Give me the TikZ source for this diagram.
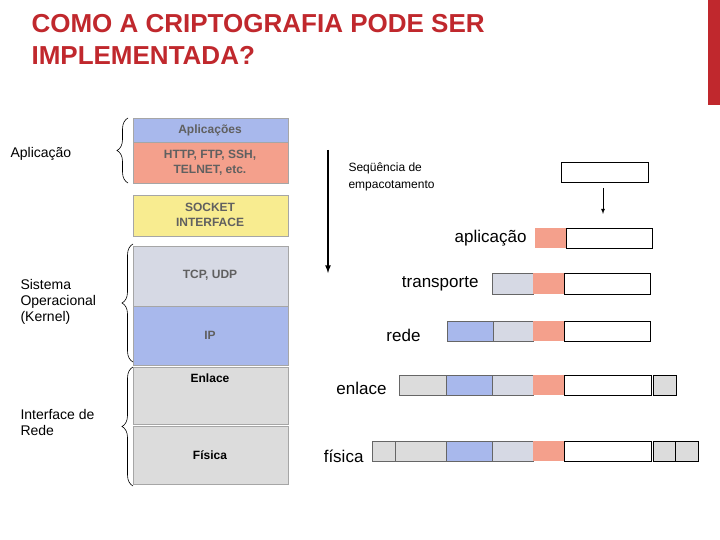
\documentclass[tikz,border=0pt]{standalone}
\usepackage{fontspec}
\setmainfont{Liberation Sans}
\usetikzlibrary{decorations.pathreplacing}
\definecolor{ttl}{HTML}{C0282D}
\definecolor{bl}{HTML}{A8B8EC}
\definecolor{rd}{HTML}{F4A08C}
\definecolor{gr}{HTML}{DCDCDC}
\definecolor{gb}{HTML}{D6D9E4}
\definecolor{ye}{HTML}{F8EC90}
\definecolor{tg}{HTML}{606060}
\tikzset{x=1pt,y=-1pt,
 lay/.style={draw=gray!70,line width=0.6pt},
 cell/.style={draw=gray!80!black,line width=0.6pt},
 wcell/.style={draw=black,line width=0.7pt,fill=white},
 ltxt/.style={font=\fontsize{12}{15}\selectfont\bfseries,text=tg,align=center},
 side/.style={font=\fontsize{14}{16}\selectfont,align=left,anchor=west},
 pl/.style={font=\fontsize{17}{19}\selectfont,anchor=east},
 br/.style={decorate,decoration={brace,amplitude=11pt},line width=0.6pt}}
\begin{document}
\begin{tikzpicture}
\useasboundingbox (0,0) rectangle (720,540);
\fill[ttl] (708,0) rectangle (720,105);
\node[anchor=west,font=\fontsize{26}{32}\selectfont\bfseries,text=ttl,align=left] (title) at (28,39) {COMO A CRIPTOGRAFIA PODE SER\\IMPLEMENTADA?};
% stack
\fill[bl,lay] (133,118) rectangle (288,142);
\node[ltxt] (apl) at (210,130) {Aplicações};
\fill[rd,lay] (133,142) rectangle (288,183);
\node[ltxt] (http) at (210,163) {HTTP, FTP, SSH,\\TELNET, etc.};
\fill[ye,lay] (133,195) rectangle (288,236);
\node[ltxt] (sock) at (210,215) {SOCKET\\INTERFACE};
\fill[gb,lay] (133,246) rectangle (288,306);
\node[ltxt] (tcp) at (210,275) {TCP, UDP};
\fill[bl,lay] (133,306) rectangle (288,365);
\node[ltxt] (ip) at (210,335) {IP};
\fill[gr,lay] (133,367) rectangle (288,424);
\node[ltxt,text=black] (enl) at (210,378) {Enlace};
\fill[gr,lay] (133,426) rectangle (288,484);
\node[ltxt,text=black] (fis) at (210,455) {Física};
% braces
\draw[br] (128,183) -- (128,118);
\draw[br] (133,362) -- (133,244);
\draw[br] (133,486) -- (133,367);
\node[side] (sa) at (7,154) {Aplicação};
\node[side] (so) at (17,302) {Sistema\\Operacional\\(Kernel)};
\node[side] (sr) at (17,422) {Interface de\\Rede};
% arrow
\coordinate (a1) at (328,150); \coordinate (a2) at (328,273);
\draw[line width=1.6pt,-latex] (a1) -- (a2);
\node[anchor=west,align=left,font=\fontsize{12}{17}\selectfont] (seq) at (345,177) {Seqüência de\\empacotamento};
% packets
\draw[wcell] (561,162) rectangle (648,182);
\coordinate (b1) at (603,188); \coordinate (b2) at (603,214);
\draw[-latex,line width=0.8pt] (b1) -- (b2);
% aplicacao
\fill[rd] (535,228) rectangle (566,248);
\draw[wcell] (566,228) rectangle (652,248);
\node[pl] (la) at (530,238) {aplicação};
% transporte
\fill[gb,cell] (492,273) rectangle (533,294);
\fill[rd] (533,273) rectangle (564,294);
\draw[wcell] (564,273) rectangle (650,294);
\node[pl] (lt) at (482,284) {transporte};
% rede
\fill[bl,cell] (447,321) rectangle (493,341);
\fill[gb,cell] (493,321) rectangle (533,341);
\fill[rd] (533,321) rectangle (564,341);
\draw[wcell] (564,321) rectangle (650,341);
\node[pl] (lr) at (424,335) {rede};
% enlace
\fill[gr,cell] (399,375) rectangle (446,395);
\fill[bl,cell] (446,375) rectangle (492,395);
\fill[gb,cell] (492,375) rectangle (533,395);
\fill[rd] (533,375) rectangle (564,395);
\draw[wcell] (564,375) rectangle (651,395);
\fill[gr,draw=black,line width=0.6pt] (653,375) rectangle (676,395);
\node[pl] (le) at (390,388) {enlace};
% fisica
\fill[gr,cell] (372,441) rectangle (395,461);
\fill[gr,cell] (395,441) rectangle (446,461);
\fill[bl,cell] (446,441) rectangle (492,461);
\fill[gb,cell] (492,441) rectangle (533,461);
\fill[rd] (533,441) rectangle (564,461);
\draw[wcell] (564,441) rectangle (651,461);
\fill[gr,draw=black,line width=0.6pt] (653,441) rectangle (675,461);
\fill[gr,draw=black,line width=0.6pt] (675,441) rectangle (698,461);
\node[pl] (lf) at (367,456) {física};
\end{tikzpicture}
\end{document}
